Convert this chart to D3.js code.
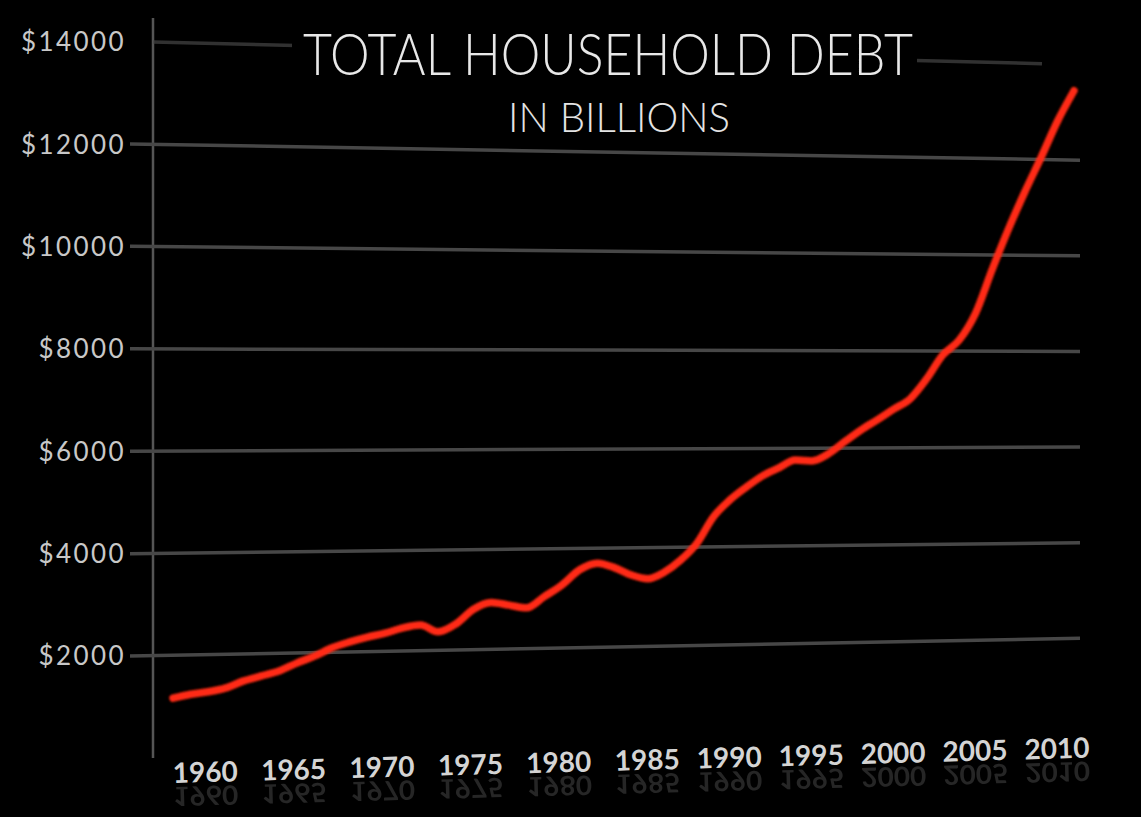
<!DOCTYPE html>
<html>
<head>
<meta charset="utf-8">
<script src="https://cdn.jsdelivr.net/npm/d3@7"></script>
<style>
  html, body { margin: 0; padding: 0; background: #000; }
  svg { display: block; }
</style>
</head>
<body>
<div id="my_dataviz"></div>
<script>
// data (billions of dollars)
var years = [1960, 1961, 1962, 1963, 1964, 1965, 1966, 1967, 1968, 1969,
             1970, 1971, 1972, 1973, 1974, 1975, 1976, 1977, 1978, 1979,
             1980, 1981, 1982, 1983, 1984, 1985, 1986, 1987, 1988, 1989,
             1990, 1991, 1992, 1993, 1994, 1995, 1996, 1997, 1998, 1999,
             2000, 2001, 2002, 2003, 2004, 2005, 2006, 2007, 2008, 2009,
             2010, 2011, 2012, 2013];
var debt = [1160, 1230, 1270, 1340, 1470, 1560, 1650, 1800, 1930, 2090,
            2200, 2290, 2360, 2460, 2510, 2370, 2520, 2810, 2940, 2880,
            2820, 3040, 3270, 3570, 3700, 3600, 3450, 3370, 3500, 3740,
            4080, 4610, 4950, 5210, 5440, 5600, 5760, 5740, 5880, 6130,
            6370, 6580, 6800, 7010, 7420, 7920, 8230, 8790, 9690, 10540,
            11320, 12050, 12810, 13450];
var yTicks = [2000, 4000, 6000, 8000, 10000, 12000, 14000];
var xTicks = [1960, 1965, 1970, 1975, 1980, 1985, 1990, 1995, 2000, 2005, 2010];

var width = 1141, height = 817;

var svg = d3.select("#my_dataviz")
    .append("svg")
    .attr("width", width)
    .attr("height", height)
    .style("background", "#000");

// x scale (a bit tighter on the right, like the photo)
var x = d3.scaleLinear()
    .domain([1960, 1985, 2013])
    .range([173, 615, 1074]);

// the picture is shot at an angle: left edge and right edge have their own y scale
var xL = 150, xR = 1078;
var yLeft = d3.scaleLinear().domain([0, 14000]).range([758, 42]);
var yRight = d3.scaleLinear().domain([0, 14000]).range([734, 64.5]);

function yAt(v, px) {
    var t = (px - xL) / (xR - xL);
    return yLeft(v) * (1 - t) + yRight(v) * t;
}

// vertical axis line
svg.append("line")
    .attr("x1", 153).attr("x2", 153)
    .attr("y1", 18).attr("y2", yLeft(0))
    .attr("stroke", "#555")
    .attr("stroke-width", 2.5);

// grid lines
svg.append("g")
    .selectAll("line")
    .data(yTicks)
    .enter().append("line")
    .attr("x1", function(d) { return d == 14000 ? 153 : 130; })
    .attr("x2", function(d) { return d == 14000 ? 1042 : 1080; })
    .attr("y1", function(d) { return yAt(d, d == 14000 ? 153 : 130); })
    .attr("y2", function(d) { return yAt(d, d == 14000 ? 1042 : 1080); })
    .attr("stroke", "#474747")
    .attr("stroke-width", 3.5)
    .attr("opacity", function(d) { return d == 14000 ? 0.7 : 1; });

// y labels
svg.append("g")
    .selectAll("text")
    .data(yTicks)
    .enter().append("text")
    .attr("x", 126)
    .attr("y", function(d) { return yLeft(d); })
    .attr("dy", "0.36em")
    .attr("text-anchor", "end")
    .style("font-family", "Lato, 'Open Sans', sans-serif")
    .style("font-size", "26px")
    .style("letter-spacing", "2.4px")
    .style("fill", "#c8c8c8")
    .text(function(d) { return "$" + d; });

// title (black box hides the top grid line behind it)
svg.append("rect")
    .attr("x", 292).attr("y", 24)
    .attr("width", 625).attr("height", 60)
    .attr("fill", "#000");

svg.append("text")
    .attr("x", 303)
    .attr("y", 75)
    .attr("textLength", 610)
    .attr("lengthAdjust", "spacingAndGlyphs")
    .style("font-family", "Lato, 'Open Sans', sans-serif")
    .style("font-weight", 300)
    .style("font-size", "58px")
    .style("fill", "#e8e8e8")
    .text("TOTAL HOUSEHOLD DEBT");

svg.append("text")
    .attr("x", 508)
    .attr("y", 132)
    .attr("textLength", 222)
    .attr("lengthAdjust", "spacingAndGlyphs")
    .style("font-family", "Lato, 'Open Sans', sans-serif")
    .style("font-weight", 300)
    .style("font-size", "42px")
    .style("fill", "#e4e4e4")
    .text("IN BILLIONS");

// x labels with a faint mirror image under them
var xg = svg.append("g");
var xl = xg.selectAll("g")
    .data(xTicks)
    .enter().append("g")
    .attr("transform", function(d) {
        var px = x(d);
        return "translate(" + px + "," + yAt(-500, px) + ") rotate(-1.5)";
    });

xl.append("text")
    .style("font-family", "Lato, 'Open Sans', sans-serif")
    .style("font-size", "28px")
    .style("font-weight", 700)
    .style("fill", "#d4d4d4")
    .text(function(d) { return d; });

xl.append("text")
    .attr("transform", "translate(0,4) scale(1,-0.95)")
    .style("font-family", "Lato, 'Open Sans', sans-serif")
    .style("font-size", "28px")
    .style("font-weight", 700)
    .style("fill", "#d0d0d0")
    .attr("opacity", 0.18)
    .text(function(d) { return d; });

// the red line
var defs = svg.append("defs");
defs.append("filter")
    .attr("id", "soft")
    .attr("x", "-5%").attr("y", "-5%")
    .attr("width", "110%").attr("height", "110%")
    .append("feGaussianBlur")
    .attr("stdDeviation", 0.9);

var data = years.map(function(y, i) { return {year: y, value: debt[i]}; });

var line = d3.line()
    .x(function(d) { return x(d.year); })
    .y(function(d) { return yAt(d.value, x(d.year)); })
    .curve(d3.curveMonotoneX);

svg.append("path")
    .datum(data)
    .attr("d", line)
    .attr("fill", "none")
    .attr("stroke", "#ff2a12")
    .attr("stroke-width", 7.5)
    .attr("stroke-linecap", "round")
    .attr("stroke-linejoin", "round")
    .attr("filter", "url(#soft)");
</script>
</body>
</html>
